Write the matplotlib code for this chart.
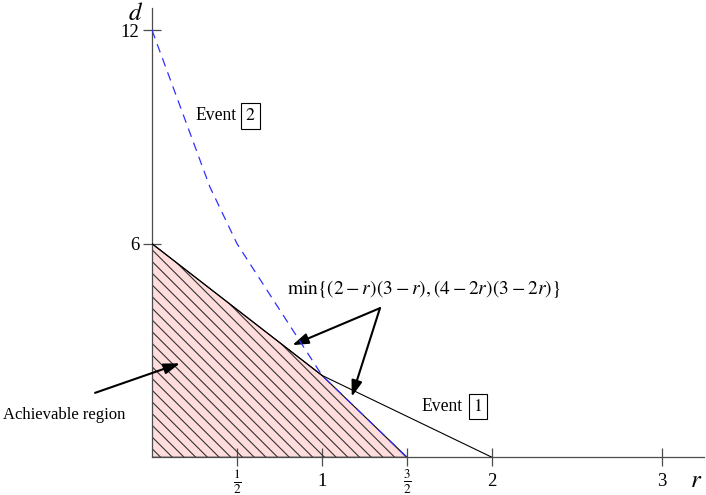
import numpy as np
import matplotlib.pyplot as plt
from matplotlib.collections import LineCollection
from matplotlib.transforms import IdentityTransform

plt.rcParams['font.family'] = ['Liberation Serif', 'DejaVu Serif']
plt.rcParams['mathtext.fontset'] = 'stix'

# values
event1_r = [0, 1, 2]
event1_d = [6, 2.3, 0]
event2_r = [0, 0.17, 0.34, 0.5, 1.0, 1.5]
event2_d = [12, 9.8, 7.6, 6, 2.3, 0]
region_r = [0, 0, 1, 1.5]
region_d = [0, 6, 2.3, 0]

xticks = [0.5, 1, 1.5, 2, 3]
xtick_labels = [r'$\frac{1}{2}$', '1', r'$\frac{3}{2}$', '2', '3']
yticks = [6, 12]
ytick_labels = ['6', '12']


def hatch(ax, patch, spacing=11.7):
    """diagonal hatch lines in pixel space, clipped to the patch"""
    x0, y0 = ax.transData.transform((0, 0))
    segs = []
    for c in np.arange(-3, 700, spacing):
        segs.append([(x0 - 100, y0 + c + 100), (x0 + 800, y0 + c - 800)])
    lc = LineCollection(segs, colors='0.2', linewidths=0.8,
                        transform=IdentityTransform(), zorder=2)
    ax.add_collection(lc, autolim=False)
    lc.set_clip_path(patch)


def arrow(ax, tail, head):
    ax.annotate('', xy=head, xytext=tail, annotation_clip=False,
                arrowprops=dict(arrowstyle='-|>,head_length=0.6,head_width=0.2',
                                color='black', lw=1.5, mutation_scale=16,
                                shrinkA=0, shrinkB=0))


fig = plt.figure(figsize=(7.06, 4.95), dpi=100)
ax = fig.add_axes([152 / 706, 37.7 / 495, 552 / 706, 449.3 / 495])
ax.set_xlim(0, 3.247)
ax.set_ylim(0, 12.62)

for s in ['top', 'right']:
    ax.spines[s].set_visible(False)
for s in ['left', 'bottom']:
    ax.spines[s].set_color('0.3')
    ax.spines[s].set_linewidth(0.9)
ax.tick_params(direction='inout', length=12.5, width=0.9, color='0.3',
               labelsize=13.5)
ax.tick_params(axis='x', pad=11.5)
ax.tick_params(axis='y', pad=3)
ax.set_xticks(xticks)
ax.set_xticklabels(xtick_labels)
for lab in ax.get_xticklabels():
    lab.set_va('center')
ax.set_yticks(yticks)
ax.set_yticklabels(ytick_labels)

region = ax.fill(region_r, region_d, facecolor='#ffdddd', edgecolor='black',
                 lw=0.8, zorder=1)[0]
hatch(ax, region)

ax.plot(event1_r, event1_d, color='black', lw=0.8, zorder=3)
ax.plot(event2_r, event2_d, color='#3030ff', lw=0.9, dashes=(7, 5), zorder=4)

# labels
box = dict(boxstyle='square,pad=0.25', fc='white', ec='black', lw=0.8)
ax.text(0.253, 9.47, 'Event', fontsize=12.7, va='baseline')
ax.text(0.579, 9.47, '$2$', fontsize=12.7, ha='center', va='baseline', bbox=box)
ax.text(1.586, 1.30, 'Event', fontsize=12.7, va='baseline')
ax.text(1.916, 1.30, '$1$', fontsize=12.7, ha='center', va='baseline', bbox=box)
ax.text(-0.875, 1.07, 'Achievable region', fontsize=12, va='baseline')
ax.text(0.796, 4.58, r'$\min\{(2-r)(3-r),(4-2r)(3-2r)\}$', fontsize=14,
        va='baseline')

ax.text(-0.094, 12.44, '$d$', fontsize=18, ha='center', va='center')
ax.text(3.2, -0.67, '$r$', fontsize=18, ha='center', va='center')

arrow(ax, (1.341, 4.19), (0.825, 3.15))
arrow(ax, (1.341, 4.19), (1.175, 1.70))
arrow(ax, (-0.335, 1.81), (0.165, 2.64))

fig.savefig('out.png', dpi=100)
